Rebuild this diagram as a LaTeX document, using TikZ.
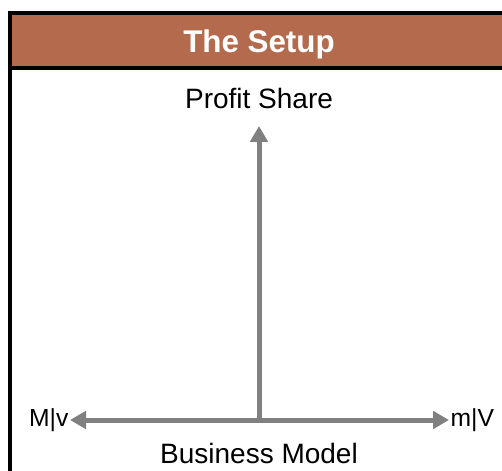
\documentclass[tikz,border=0pt]{standalone}
\usepackage{fontspec}
\setmainfont{Liberation Sans}
\usetikzlibrary{arrows.meta,positioning}

\definecolor{setupbrown}{RGB}{180,107,77}
\definecolor{axisgray}{RGB}{128,128,128}

\begin{document}
\begin{tikzpicture}[
    x=0.75pt, y=-0.75pt,
    >={Triangle[length=12pt,width=13pt]},
    frame/.style={line width=3pt, draw=black},
    heading/.style={
      font=\bfseries\fontsize{23.5}{28}\selectfont,
      text=white,
      inner sep=0pt
    },
    axisname/.style={font=\fontsize{21}{25}\selectfont, inner sep=0pt},
    endname/.style={font=\fontsize{18.5}{22}\selectfont, inner sep=0pt},
    axis/.style={line width=3.75pt, draw=axisgray}
  ]
    \useasboundingbox (0,0) rectangle (502,470);

    % panel with title bar
    \draw[frame, fill=white] (10,13) rectangle (530,500);
    \draw[frame, fill=setupbrown] (10,13) rectangle (530,68);
    \node[heading, anchor=base] (title) at (259,53) {The Setup};

    \coordinate (origin) at (259,420);
    \coordinate (top) at (259,126);
    \coordinate (west) at (70,420);
    \coordinate (east) at (449,420);

    \node[axisname, anchor=base] (share) at (259,109) {Profit Share};
    \node[axisname, anchor=base] (model) at (259,463) {Business Model};
    \node[endname, anchor=east] (westend) at ([xshift=-1pt]west) {M|v};
    \node[endname, anchor=west] (eastend) at ([xshift=1pt]east) {m|V};

    \draw[axis, <->] (west) -- (east);
    \draw[axis, ->] (origin) -- (top);
  \end{tikzpicture}
\end{document}
